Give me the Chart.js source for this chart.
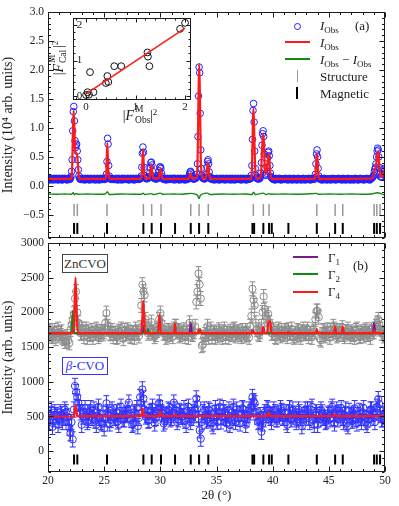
<!DOCTYPE html>
<html><head><meta charset="utf-8">
<script src="https://cdn.jsdelivr.net/npm/chart.js@4.4.1/dist/chart.umd.min.js"></script>
<style>
html,body{margin:0;padding:0;background:#fff;}
#wrap{position:relative;width:399px;height:506px;overflow:hidden;font-family:'Liberation Serif',serif;color:#222;background:#fff;}
canvas{position:absolute;}
.lab{position:absolute;white-space:nowrap;font-size:13px;line-height:13px;}
.lab sub{font-size:9px;vertical-align:-3px;line-height:0;font-style:normal;}
.lab sup{font-size:9px;vertical-align:5px;line-height:0;}
.sym{position:absolute;}
.ss{display:inline-block;position:relative;width:16px;height:10px;}
.ss .p{position:absolute;left:1px;top:-6px;font-size:9.5px;line-height:10px;}
.ss .b{position:absolute;left:1px;top:5px;font-size:9.5px;line-height:10px;}
.box{position:absolute;display:flex;align-items:center;justify-content:center;font-size:13px;background:#fff;box-sizing:border-box;}
</style></head><body>
<div id="wrap">
<canvas id="top" width="399" height="250" style="left:0;top:0"></canvas>
<canvas id="bot" width="399" height="278" style="left:0;top:228px"></canvas>
<canvas id="ins" width="136" height="112" style="left:64px;top:6px"></canvas>

<!-- top legend -->
<div class="sym" style="left:293.5px;top:22.5px;width:7px;height:7px;border:1.3px solid #2020ff;border-radius:50%;box-sizing:border-box"></div>
<div class="lab" style="left:320px;top:19px"><i>I</i><sub>Obs</sub></div>
<div class="lab" style="left:355px;top:19px">(a)</div>
<div class="sym" style="left:285px;top:41px;width:25px;height:2px;background:#ff1a1a"></div>
<div class="lab" style="left:320px;top:36px"><i>I</i><sub>Obs</sub></div>
<div class="sym" style="left:285px;top:58px;width:25px;height:2px;background:#138a13"></div>
<div class="lab" style="left:320px;top:53px"><i>I</i><sub>Obs</sub> &minus; <i>I</i><sub>Obs</sub></div>
<div class="sym" style="left:296.5px;top:70px;width:1.5px;height:12px;background:#999"></div>
<div class="lab" style="left:320px;top:70px">Structure</div>
<div class="sym" style="left:296px;top:87px;width:2px;height:12px;background:#000"></div>
<div class="lab" style="left:320px;top:87px">Magnetic</div>

<!-- inset axis titles -->
<div class="lab" style="left:58px;top:58px;font-size:14px;transform:translate(-50%,-50%) rotate(-90deg)">|<i>F</i><span class="ss"><span class="p">M</span><span class="b">Cal</span></span>|<sup>2</sup></div>
<div class="lab" style="left:140px;top:115px;font-size:14px;transform:translate(-50%,-50%)">|<i>F</i><span class="ss"><span class="p">M</span><span class="b">Obs</span></span>|<sup>2</sup></div>

<!-- bottom legend -->
<div class="sym" style="left:293px;top:256px;width:25px;height:2px;background:#7d1a8c"></div>
<div class="lab" style="left:328px;top:251px">Γ<sub>1</sub></div>
<div class="sym" style="left:293px;top:273px;width:25px;height:2px;background:#138a13"></div>
<div class="lab" style="left:328px;top:268px">Γ<sub>2</sub></div>
<div class="sym" style="left:293px;top:291px;width:25px;height:2px;background:#ff1a1a"></div>
<div class="lab" style="left:328px;top:285px">Γ<sub>4</sub></div>
<div class="lab" style="left:353px;top:259px">(b)</div>

<div class="box" style="left:62px;top:254px;width:46px;height:19px;border:1px solid #444;color:#333">ZnCVO</div>
<div class="box" style="left:62px;top:357px;width:46px;height:18px;border:1px solid #3333ff;color:#3333ff"><i>β</i>-CVO</div>
</div>
<script>
// ---------------- DATA ----------------
// Top panel: observed intensity (10^4 arb. units), 2θ from 20 to 50 in 0.05° steps
const TOP_START = 20, TOP_STEP = 0.05;
const OBS_TOP = [
 .12,.11,.13,.12,.10,.12,.13,.11,.12,.12,.10,.13,.12,.11,.12,.13,.11,.12,.10,.12,
 .13,.12,.11,.12,.12,.10,.13,.12,.11,.12,.13,.12,.11,.12,.10,.12,.13,.12,.12,.11,
 .13,.16,.25,.45,.95,1.28,1.37,1.12,.78,.66,.70,.72,.60,.45,.28,.17,.13,.12,.11,.12,
 .12,.11,.13,.12,.12,.10,.12,.13,.11,.12,.12,.13,.11,.12,.10,.12,.13,.12,.11,.12,
 .11,.12,.13,.12,.10,.12,.12,.11,.13,.12,.12,.10,.12,.13,.11,.12,.12,.11,.13,.12,
 .12,.11,.12,.14,.20,.42,.82,.72,.35,.17,.13,.12,.11,.12,.13,.12,.11,.12,.12,.11,
 .12,.13,.11,.12,.10,.12,.13,.12,.11,.12,.12,.10,.13,.12,.11,.12,.13,.11,.12,.12,
 .11,.12,.13,.12,.10,.12,.11,.13,.12,.12,.11,.12,.13,.10,.12,.12,.11,.13,.12,.12,
 .12,.11,.12,.13,.12,.13,.17,.32,.56,.67,.58,.32,.18,.14,.13,.13,.12,.13,.13,.14,
 .16,.22,.32,.40,.41,.36,.25,.17,.14,.13,.13,.12,.12,.13,.12,.13,.14,.18,.26,.32,
 .33,.30,.22,.16,.13,.12,.11,.12,.13,.12,.10,.12,.12,.13,.11,.12,.12,.11,.13,.12,
 .12,.11,.12,.13,.12,.10,.13,.12,.11,.12,.12,.13,.11,.12,.10,.12,.13,.12,.11,.12,
 .12,.11,.13,.12,.10,.12,.12,.13,.11,.12,.13,.15,.20,.24,.25,.22,.16,.13,.12,.12,
 .12,.12,.13,.13,.15,.20,.38,.85,1.55,2.05,1.95,1.25,.62,.30,.18,.14,.13,.13,.12,.12,
 .13,.14,.20,.32,.42,.45,.38,.24,.16,.13,.12,.12,.11,.12,.13,.12,.10,.12,.12,.11,
 .12,.13,.11,.12,.12,.10,.12,.13,.12,.11,.12,.12,.13,.11,.12,.10,.12,.12,.13,.11,
 .12,.12,.11,.13,.12,.10,.12,.12,.13,.11,.12,.12,.10,.13,.12,.11,.12,.12,.13,.12,
 .11,.12,.12,.13,.10,.12,.11,.12,.13,.12,.11,.12,.12,.10,.13,.12,.11,.12,.12,.12,
 .12,.13,.18,.35,.80,1.30,1.42,1.10,.60,.30,.18,.14,.13,.12,.12,.13,.12,.13,.15,.22,
 .40,.70,.90,.95,.85,.55,.30,.20,.18,.22,.32,.48,.58,.60,.52,.35,.22,.16,.14,.13,
 .12,.11,.12,.12,.10,.12,.13,.11,.12,.12,.11,.12,.13,.11,.12,.10,.12,.12,.11,.12,
 .12,.11,.12,.13,.11,.12,.12,.10,.12,.11,.13,.12,.11,.12,.12,.10,.12,.13,.11,.12,
 .11,.12,.12,.10,.12,.13,.11,.12,.12,.11,.12,.10,.12,.12,.13,.11,.12,.12,.10,.12,
 .12,.11,.12,.12,.13,.11,.12,.10,.12,.12,.11,.12,.12,.13,.11,.14,.20,.38,.55,.62,
 .50,.30,.17,.13,.12,.11,.12,.12,.10,.12,.11,.12,.13,.11,.12,.12,.10,.12,.11,.12,
 .12,.11,.12,.10,.12,.12,.11,.13,.12,.11,.12,.12,.10,.12,.11,.12,.12,.13,.11,.12,
 .11,.12,.12,.10,.12,.13,.11,.12,.12,.11,.10,.12,.12,.11,.13,.12,.11,.12,.10,.12,
 .12,.11,.12,.12,.10,.12,.11,.13,.12,.11,.12,.12,.10,.12,.11,.12,.13,.11,.12,.12,
 .11,.12,.10,.12,.12,.11,.12,.13,.11,.12,.12,.11,.12,.10,.12,.12,.13,.14,.15,.16,
 .18,.24,.29,.32,.38,.50,.60,.65,.62,.50,.32,.20,.16,.15,.16,.20,.24,.28,.30,.26,
 .22
];
// Top panel: calculated profile [2θ, I]
const CALC_TOP = [[20,.12],[22.05,.12],[22.15,.3],[22.22,.95],[22.28,1.30],[22.35,1.0],[22.42,.62],[22.5,.55],[22.58,.56],[22.66,.38],[22.74,.18],[22.82,.12],
 [25.12,.12],[25.2,.25],[25.28,.74],[25.36,.3],[25.45,.12],
 [28.3,.12],[28.38,.3],[28.46,.63],[28.54,.3],[28.62,.13],
 [29.05,.13],[29.13,.28],[29.21,.37],[29.29,.22],[29.37,.13],
 [29.85,.13],[29.94,.24],[30.02,.30],[30.1,.18],[30.18,.12],
 [32.55,.12],[32.63,.19],[32.7,.22],[32.77,.17],[32.85,.12],
 [33.25,.14],[33.33,.6],[33.4,1.6],[33.46,2.1],[33.52,1.6],[33.6,.5],[33.68,.2],[33.76,.13],
 [34.05,.13],[34.14,.25],[34.23,.40],[34.32,.25],[34.42,.12],
 [38.1,.12],[38.18,.5],[38.25,1.2],[38.3,1.33],[38.36,.9],[38.45,.3],[38.55,.12],[38.85,.13],
 [38.95,.18],[39.05,.6],[39.15,.9],[39.22,.75],[39.3,.3],[39.4,.2],[39.5,.3],[39.6,.5],[39.66,.56],[39.74,.35],[39.84,.14],[39.95,.12],
 [43.78,.12],[43.86,.35],[43.94,.56],[44.02,.35],[44.1,.12],
 [48.9,.13],[49.05,.26],[49.2,.35],[49.3,.52],[49.4,.6],[49.48,.4],[49.58,.18],[49.7,.15],[49.85,.22],[50,.25]];
// Top panel: difference curve [2θ, I]
const DIFF_TOP = [[20,-.14],[20.8,-.145],[21.5,-.14],[22.1,-.145],[22.25,-.12],[22.35,-.155],[22.5,-.13],[22.7,-.145],
 [23.5,-.14],[24.4,-.145],[25.1,-.14],[25.28,-.10],[25.45,-.15],[26.5,-.14],[27.5,-.145],[28.3,-.145],[28.47,-.125],[28.6,-.15],
 [29.2,-.135],[29.4,-.15],[30.0,-.125],[30.2,-.145],[31.2,-.14],[32.0,-.145],[32.7,-.13],[33.3,-.16],[33.45,-.22],[33.55,-.17],[33.7,-.145],
 [34.2,-.125],[34.4,-.15],[35.5,-.14],[36.5,-.145],[37.5,-.14],[38.15,-.15],[38.3,-.11],[38.45,-.15],[39.15,-.125],[39.4,-.15],[39.65,-.135],[39.9,-.145],
 [41,-.14],[42,-.145],[43,-.14],[43.9,-.13],[44.1,-.145],[45,-.14],[46,-.145],[47,-.14],[48,-.145],[48.8,-.14],[49.3,-.12],[49.6,-.13],[49.85,-.15],[50,-.16]];
// Reflection positions (2θ)
const STRUCT_POS = [22.32,22.61,25.25,28.49,29.23,30.06,32.71,33.45,34.27,38.28,39.17,39.68,43.93,45.56,46.24,49.03,49.27,49.56,50.0];
const MAG_POS = [22.32,22.61,25.25,28.49,29.23,30.06,31.31,32.71,33.45,34.27,38.2,38.35,39.17,39.68,39.92,41.40,43.93,45.56,46.24,49.03,49.27,49.56,50.0];

// Bottom panel: 2θ from 20 to 50 in 0.1° steps
const BOT_START = 20, BOT_STEP = 0.1;
const ZNCVO_OBS = [
 1690,1740,1720,1660,1650,1700,1740,1620,1700,1760,
 1660,1700,1720,1640,1620,1580,1580,1650,1600,1560,
 1750,1820,1900,1980,2200,2300,2000,1850,1780,1700,
 1700,1760,1650,1720,1760,1640,1720,1690,1680,1740,
 1640,1700,1700,1760,1730,1650,1680,1720,1720,1690,
 1720,1850,1990,1800,1760,1700,1690,1740,1650,1700,
 1700,1640,1650,1730,1720,1760,1680,1620,1740,1700,
 1690,1750,1720,1660,1650,1710,1700,1640,1760,1720,
 1700,1660,1780,2100,2400,2300,2250,1900,1800,1700,
 1720,1760,1860,1700,1720,1650,1680,1740,1760,1900,
 1990,1850,1780,1700,1700,1640,1660,1740,1720,1680,
 1700,1650,1760,1800,1800,1720,1740,1660,1680,1720,
 1700,1750,1650,1700,1720,1640,1850,1760,1700,1680,
 1720,1800,2150,2300,2560,2400,2200,1520,1540,1640,
 1680,1720,1800,1640,1700,1760,1650,1700,1720,1640,
 1700,1660,1750,1720,1680,1640,1720,1760,1650,1700,
 1700,1640,1730,1700,1680,1750,1760,1660,1690,1720,
 1720,1680,1650,1740,1700,1660,1740,1700,1680,1640,
 1800,1950,2340,2180,2100,1850,1750,1700,1680,1720,
 1800,2000,2230,2050,1950,1900,1980,1850,1800,1700,
 1700,1750,1650,1640,1720,1760,1690,1660,1740,1700,
 1680,1740,1720,1650,1750,1700,1700,1760,1660,1640,
 1700,1660,1740,1720,1680,1640,1720,1760,1690,1700,
 1720,1760,1650,1700,1700,1640,1750,1720,1900,2020,
 2020,1930,1620,1600,1680,1740,1720,1660,1700,1750,
 1690,1640,1740,1700,1800,1760,1720,1660,1680,1740,
 1700,1740,1780,1680,1650,1720,1720,1760,1690,1650,
 1720,1700,1680,1640,1740,1760,1700,1650,1660,1720,
 1700,1660,1730,1750,1680,1700,1720,1640,1750,1720,
 1720,1760,1800,1850,1900,1820,1760,1700,1700,1660,
 1680];
const ZNCVO_ERR = 100;
const BCVO_OBS = [
 480,420,520,600,350,460,560,520,500,380,
 450,560,530,420,480,600,560,500,420,340,
 260,420,170,600,940,850,780,700,620,560,
 380,500,560,620,500,420,450,560,620,480,
 520,600,440,380,560,640,480,420,400,540,
 330,460,690,560,520,400,450,600,560,480,
 480,560,430,380,580,640,520,460,460,540,
 520,600,700,540,450,380,400,560,540,620,
 360,480,780,700,890,760,600,500,520,440,
 450,560,580,640,520,400,480,560,600,700,
 620,560,540,400,430,520,500,600,580,460,
 480,560,700,600,520,420,460,580,560,500,
 500,620,440,380,580,640,520,420,480,560,
 520,600,760,680,470,300,180,420,560,600,
 520,440,460,600,580,480,400,360,550,620,
 500,420,560,640,430,500,620,560,480,400,
 520,600,380,440,560,640,480,420,600,540,
 470,400,540,620,600,480,380,460,520,600,
 560,640,780,720,690,560,500,420,440,520,
 280,400,460,560,520,620,600,520,480,420,
 520,600,560,460,460,540,500,620,580,480,
 480,560,420,380,560,620,520,460,600,540,
 500,420,460,600,560,480,360,420,520,600,
 540,600,480,420,600,640,450,380,520,560,
 380,460,520,600,560,480,480,420,440,540,
 520,460,600,640,480,400,540,600,460,520,
 560,620,480,420,520,600,400,360,580,520,
 500,440,540,620,460,400,520,580,480,420,
 560,620,480,420,380,460,520,600,600,540,
 480,420,560,640,750,680,520,460,460,540,
 500];
const BCVO_ERR = 110;
const GAMMA4 = [[20,1700],[22.25,1700],[22.35,2000],[22.45,2500],[22.55,2000],[22.65,1700],[28.3,1700],[28.4,1920],[28.48,2170],[28.56,1920],[28.66,1700],
 [29.8,1700],[29.92,1970],[30.04,1700],[31.2,1700],[31.3,1840],[31.4,1700],[33.3,1700],[33.45,1760],[33.6,1700],[38.1,1700],[38.2,1740],[38.3,1700],
 [39.05,1700],[39.15,1790],[39.25,1700],[39.5,1700],[39.6,1840],[39.7,1870],[39.8,1860],[39.9,1700],[41.3,1700],[41.4,1720],[41.5,1700],
 [43.8,1700],[43.93,1760],[44.05,1700],[45.45,1700],[45.56,1790],[45.67,1700],[46.13,1700],[46.24,1790],[46.35,1700],[48.95,1700],[49.05,1740],[49.15,1700],[49.9,1700],[50,1740]];
const GAMMA1 = [[20,1700],[22.12,1700],[22.22,1900],[22.32,1700],[28.38,1700],[28.48,1800],[28.58,1700],[32.6,1700],[32.71,1850],[32.82,1700],
 [38.15,1700],[38.25,1740],[38.35,1700],[39.1,1700],[39.2,1770],[39.3,1700],[48.92,1700],[49.03,1850],[49.14,1700],[50,1700]];
const GAMMA2 = [[20,1700],[22.1,1700],[22.2,2020],[22.3,1760],[22.4,1700],[28.8,1700],[28.9,1760],[29.0,1700],[33.45,1700],[33.55,1760],[33.65,1700],[50,1700]];
const BCVO_CALC = [[20,500],[22.32,500],[22.45,660],[22.6,505],[28.28,505],[28.42,610],[28.56,505],[29.88,505],[30.0,570],[30.12,505],
 [31.2,505],[31.33,525],[31.46,505],[39.5,505],[39.65,560],[39.8,505],[45.45,505],[45.56,530],[45.67,505],[50,505]];

// Tick labels
const X_TICKS = [20, 25, 30, 35, 40, 45, 50];
const Y_TICKS_TOP = [-0.5, 0, 0.5, 1.0, 1.5, 2.0, 2.5, 3.0];
const Y_TICKS_BOT = [0, 500, 1000, 1500, 2000, 2500, 3000];
const INSET_TICKS = [0, 1, 2];

// Inset: |F_Obs|^2 vs |F_Cal|^2
const INSET_OBS = [0,0.03,0.15,0.06,0.08,0.40,0.43,0.45,0.57,0.71,1.24,1.25,1.28,1.90,2.00];
const INSET_CAL = [0.02,0.10,0.10,0.03,0.67,0.36,0.56,0.39,0.84,0.84,1.23,1.11,0.84,1.90,2.07];
const INSET_FIT = [[0,0.05],[2.0,1.92]];

// ---------------- RENDER ----------------
Chart.defaults.font.family = "'Liberation Serif', serif";
Chart.defaults.font.size = 11.5;
Chart.defaults.color = '#222';

const pairs = a => a.map(([x, y]) => ({x, y}));
const grid = (arr, start, step) => arr.map((v, i) => ({x: +(start + i * step).toFixed(3), y: v}));
const fixTicks = list => (s => { s.ticks = list.map(v => ({value: v})); });

const framePlugin = {
  id: 'frame',
  afterDraw(chart, args, o) {
    const {ctx, chartArea: a, scales: {x, y}} = chart;
    ctx.save();
    ctx.strokeStyle = '#1a1a1a'; ctx.lineWidth = 1;
    const L = Math.round(a.left) + 0.5, R = Math.round(a.right) - 0.5, T = Math.round(a.top) + 0.5, B = Math.round(a.bottom) - 0.5;
    ctx.strokeRect(L, T, R - L, B - T);
    ctx.beginPath();
    const isMaj = (v, m) => Math.abs(v / m - Math.round(v / m)) < 1e-6;
    for (let k = Math.ceil(x.min / o.xMinor - 1e-9); k * o.xMinor <= x.max + 1e-9; k++) {
      const v = k * o.xMinor, len = isMaj(v, o.xMajor) ? o.major : o.minor;
      const px = Math.round(x.getPixelForValue(v)) + 0.5;
      ctx.moveTo(px, B); ctx.lineTo(px, B - len); ctx.moveTo(px, T); ctx.lineTo(px, T + len);
    }
    for (let k = Math.ceil(y.min / o.yMinor - 1e-9); k * o.yMinor <= y.max + 1e-9; k++) {
      const v = k * o.yMinor, len = isMaj(v, o.yMajor) ? o.major : o.minor;
      const py = Math.round(y.getPixelForValue(v)) + 0.5;
      ctx.moveTo(L, py); ctx.lineTo(L + len, py); ctx.moveTo(R, py); ctx.lineTo(R - len, py);
    }
    ctx.stroke();
    ctx.restore();
  }
};
const errorBarPlugin = {
  id: 'errbars',
  beforeDatasetsDraw(chart) {
    const {ctx, chartArea: a, scales: {x, y}} = chart;
    ctx.save();
    ctx.beginPath(); ctx.rect(a.left, a.top, a.width, a.height); ctx.clip();
    chart.data.datasets.forEach(ds => {
      if (!ds.errorBar) return;
      ctx.strokeStyle = ds.pointBorderColor; ctx.lineWidth = 1;
      ctx.beginPath();
      ds.data.forEach(p => {
        const px = x.getPixelForValue(p.x);
        const y0 = y.getPixelForValue(p.y - ds.errorBar), y1 = y.getPixelForValue(p.y + ds.errorBar);
        ctx.moveTo(px, y0); ctx.lineTo(px, y1);
        ctx.moveTo(px - 3, y0); ctx.lineTo(px + 3, y0);
        ctx.moveTo(px - 3, y1); ctx.lineTo(px + 3, y1);
      });
      ctx.stroke();
    });
    ctx.restore();
  }
};

const lineDs = (data, color, w, order) => ({data, showLine: true, borderColor: color, borderWidth: w, pointRadius: 0, cubicInterpolationMode: 'monotone', order});
const circDs = (data, color, r, order, err) => ({data, showLine: false, pointStyle: 'circle', pointRadius: r, pointBorderWidth: 1,
  pointBorderColor: color, pointBackgroundColor: 'rgba(0,0,0,0)', order, errorBar: err});
const tickDs = (pos, yv, color, r, w, order) => ({data: pos.map(p => ({x: p, y: yv})), showLine: false, pointStyle: 'line', pointRotation: 90,
  pointRadius: r, pointBorderWidth: w, pointBorderColor: color, order});

const BLUE = '#2020ff', RED = '#ff1a1a', GREEN = '#138a13', PURPLE = '#7d1a8c', GRAY = '#8c8c8c';
const common = {animation: false, responsive: false, events: [], plugins: {legend: {display: false}, tooltip: {enabled: false}}};

new Chart(document.getElementById('top'), {
  type: 'scatter',
  data: {datasets: [
    lineDs(pairs(CALC_TOP), RED, 2.2, 0),
    circDs(grid(OBS_TOP, TOP_START, TOP_STEP), BLUE, 3.3, 2),
    lineDs(pairs(DIFF_TOP), GREEN, 1.4, 1),
    tickDs(STRUCT_POS, -0.415, '#999', 6, 1.5, 3),
    tickDs(MAG_POS, -0.735, '#000', 5.5, 2, 3)
  ]},
  options: {...common,
    layout: {padding: {top: 12, bottom: 12, left: 0, right: 14}},
    plugins: {...common.plugins, frame: {xMinor: 1, xMajor: 5, yMinor: 0.1, yMajor: 0.5, major: 5, minor: 2.5}},
    scales: {
      x: {type: 'linear', min: 20, max: 50, display: false},
      y: {type: 'linear', min: -0.9, max: 3.0, afterBuildTicks: fixTicks(Y_TICKS_TOP),
        ticks: {padding: 4, callback: v => (v < 0 ? '\u2212' : '') + Math.abs(v).toFixed(1)},
        grid: {display: false, drawTicks: false}, border: {display: false},
        title: {display: true, text: 'Intensity (10\u2074 arb. units)', font: {size: 14}, padding: {top: 0, bottom: 0}},
        afterFit: s => { s.width = 48; }}
    }
  },
  plugins: [framePlugin]
});

new Chart(document.getElementById('bot'), {
  type: 'scatter',
  data: {datasets: [
    lineDs(pairs(GAMMA4), RED, 2.2, 0),
    lineDs(pairs(GAMMA2), GREEN, 2, 1),
    lineDs(pairs(GAMMA1), PURPLE, 2, 1),
    lineDs(pairs(BCVO_CALC), RED, 2.2, 0),
    circDs(grid(ZNCVO_OBS, BOT_START, BOT_STEP), GRAY, 3.6, 3, ZNCVO_ERR),
    circDs(grid(BCVO_OBS, BOT_START, BOT_STEP), '#3030ff', 3.6, 3, BCVO_ERR),
    tickDs(MAG_POS, -120, '#000', 5, 2, 4)
  ]},
  options: {...common,
    layout: {padding: {top: 15, bottom: 0, left: 0, right: 14}},
    plugins: {...common.plugins, frame: {xMinor: 1, xMajor: 5, yMinor: 100, yMajor: 500, major: 5, minor: 2.5}},
    scales: {
      x: {type: 'linear', min: 20, max: 50, afterBuildTicks: fixTicks(X_TICKS),
        ticks: {padding: 2, callback: v => String(v)},
        grid: {display: false, drawTicks: false}, border: {display: false},
        title: {display: true, text: '2\u03b8 (\u00b0)', font: {size: 13}, padding: {top: 0, bottom: 3}},
        afterFit: s => { s.height = 34; }},
      y: {type: 'linear', min: -300, max: 3000, afterBuildTicks: fixTicks(Y_TICKS_BOT),
        ticks: {padding: 4, callback: v => String(v)},
        grid: {display: false, drawTicks: false}, border: {display: false},
        title: {display: true, text: 'Intensity (arb. units)', font: {size: 14}, padding: {top: 0, bottom: 0}},
        afterFit: s => { s.width = 48; }}
    }
  },
  plugins: [framePlugin, errorBarPlugin]
});

new Chart(document.getElementById('ins'), {
  type: 'scatter',
  data: {datasets: [
    lineDs(pairs(INSET_FIT), RED, 1.5, 0),
    circDs(INSET_OBS.map((v, i) => ({x: v, y: INSET_CAL[i]})), '#111', 3.4, 1)
  ]},
  options: {...common,
    layout: {padding: {top: 12.3, bottom: 0, left: 8.7, right: 9}},
    plugins: {...common.plugins, frame: {xMinor: 0.2, xMajor: 1, yMinor: 0.2, yMajor: 1, major: 4, minor: 2}},
    scales: {
      x: {type: 'linear', min: -0.27, max: 2.12, afterBuildTicks: fixTicks(INSET_TICKS),
        ticks: {padding: 0, font: {size: 11}, callback: v => String(v)},
        grid: {display: false, drawTicks: false}, border: {display: false},
        afterFit: s => { s.height = 17.7; }},
      y: {type: 'linear', min: -0.13, max: 2.2, afterBuildTicks: fixTicks(INSET_TICKS),
        ticks: {mirror: true, padding: 4, font: {size: 11}, callback: v => String(v)},
        grid: {display: false, drawTicks: false}, border: {display: false},
        afterFit: s => { s.width = 0; }}
    }
  },
  plugins: [framePlugin]
});
</script>
</body></html>
